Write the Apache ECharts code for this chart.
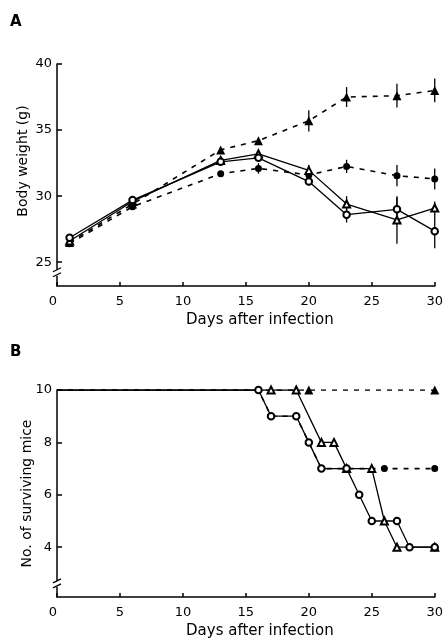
<!DOCTYPE html>
<html>
<head>
<meta charset="utf-8">
<script src="https://cdn.jsdelivr.net/npm/echarts@6/dist/echarts.min.js"></script>
<style>
  html, body { margin: 0; padding: 0; background: #fff; }
  #chart { width: 446px; height: 640px; }
</style>
</head>
<body>
<div id="chart"></div>
<script>
  // Panel A: body weight (g), mean with error bars
  const daysA = [1, 6, 13, 16, 20, 23, 27, 30];
  const filledTriA = [26.5, 29.4, 33.5, 34.2, 35.7, 37.5, 37.6, 38.0];
  const filledTriSd = [0, 0, 0, 0, 0.8, 0.75, 0.9, 0.9];
  const filledCircA = [26.4, 29.2, 31.7, 32.1, 31.6, 32.25, 31.55, 31.3];
  const filledCircSd = [0, 0, 0, 0.4, 0, 0.5, 0.8, 0.8];
  const openTriA = [26.6, 29.6, 32.7, 33.2, 31.95, 29.4, 28.2, 29.1];
  const openTriSd = [0, 0, 0, 0.3, 0.4, 0.6, 1.8, 0.5];
  const openCircA = [26.85, 29.7, 32.6, 32.9, 31.1, 28.6, 29.0, 27.35];
  const openCircSd = [0, 0, 0, 0.3, 0.3, 0.6, 0.9, 1.3];
  const yTicksA = [25, 30, 35, 40];

  // Panel B: number of surviving mice
  const filledTriDaysB = [0, 20, 30];
  const filledTriB = [10, 10, 10];
  const filledCircDaysB = [0, 16, 17, 19, 20, 21, 26, 30];
  const filledCircB = [10, 10, 9, 9, 8, 7, 7, 7];
  const openTriDaysB = [0, 17, 19, 21, 22, 23, 25, 26, 27, 30];
  const openTriB = [10, 10, 10, 8, 8, 7, 7, 5, 4, 4];
  const openCircDaysB = [0, 16, 17, 19, 20, 21, 23, 24, 25, 27, 28, 30];
  const openCircB = [10, 10, 9, 9, 8, 7, 7, 6, 5, 5, 4, 4];
  const yTicksB = [4, 6, 8, 10];

  const font = 'DejaVu Sans';
  const symbolSizes = { triangle: 9, circle: 7, emptyTriangle: 7, emptyCircle: 6.5 };

  const pairs = (xs, ys) => xs.map((x, i) => [x, ys[i]]);
  // survival curves start at the y-axis without a marker
  const survData = (xs, ys) => xs.map((x, i) => i === 0 ? { value: [x, ys[i]], symbol: 'none' } : [x, ys[i]]);
  const errData = (ys, sd) => daysA.map((x, i) => [x, ys[i] - sd[i], ys[i] + sd[i]]).filter((d, i) => sd[i] > 0);

  const xAxisCommon = {
    type: 'value', min: 0, max: 30, interval: 5,
    axisLine: { lineStyle: { color: '#000', width: 1.5 } },
    axisTick: { inside: true, length: 4, lineStyle: { color: '#000', width: 1.5 } },
    axisLabel: { color: '#000', fontSize: 13, fontFamily: font, margin: 9, alignMinLabel: 'right' },
    splitLine: { show: false },
    name: 'Days after infection', nameLocation: 'middle', nameGap: 27, nameMoveOverlap: false,
    nameTextStyle: { color: '#000', fontSize: 15, fontFamily: font, padding: [0, 0, 0, 28] }
  };

  const yAxisCommon = (min, max, ticks) => ({
    type: 'value', min: min, max: max,
    axisLine: { show: true, lineStyle: { color: '#000', width: 1.5 } },
    axisTick: { show: true, inside: true, length: 5, customValues: ticks, lineStyle: { color: '#000', width: 1.5 } },
    axisLabel: { color: '#000', fontSize: 13, fontFamily: font, margin: 5, customValues: ticks },
    splitLine: { show: false }
  });

  const lineSeries = (gi, data, symbol, dashed) => ({
    type: 'line', xAxisIndex: gi, yAxisIndex: gi, data: data,
    symbol: symbol, symbolSize: symbolSizes[symbol],
    showAllSymbol: true, animation: false,
    itemStyle: { color: '#000', borderWidth: 1.2 },
    lineStyle: { color: '#000', width: dashed ? 1.6 : 1.3, type: dashed ? [5, 6] : 'solid' },
    z: dashed ? 2 : 3
  });

  const errSeries = (data) => ({
    type: 'custom', xAxisIndex: 0, yAxisIndex: 0, data: data, animation: false, z: 1,
    renderItem: (params, api) => {
      const lo = api.coord([api.value(0), api.value(1)]);
      const hi = api.coord([api.value(0), api.value(2)]);
      return { type: 'line', shape: { x1: lo[0], y1: lo[1], x2: hi[0], y2: hi[1] },
        style: { stroke: '#000', lineWidth: 1.3 } };
    }
  });

  const option = {
    backgroundColor: '#fff',
    animation: false,
    title: [
      { text: 'A', left: 10, top: 15, padding: 0, textStyle: { fontSize: 15, fontWeight: 'bold', fontFamily: font, color: '#000' } },
      { text: 'B', left: 10, top: 345, padding: 0, textStyle: { fontSize: 15, fontWeight: 'bold', fontFamily: font, color: '#000' } }
    ],
    grid: [
      { left: 57, right: 9, top: 64, height: 222 },
      { left: 57, right: 9, top: 390, height: 207 }
    ],
    xAxis: [
      Object.assign({ gridIndex: 0 }, xAxisCommon),
      Object.assign({ gridIndex: 1 }, xAxisCommon)
    ],
    yAxis: [
      Object.assign({ gridIndex: 0, name: 'Body weight (g)', nameLocation: 'middle', nameGap: 27, nameMoveOverlap: false,
        nameTextStyle: { color: '#000', fontSize: 14, fontFamily: font, padding: [0, 0, 0, 28] } },
        yAxisCommon(23.2, 40, yTicksA)),
      Object.assign({ gridIndex: 1, name: 'No. of surviving mice', nameLocation: 'middle', nameGap: 23, nameMoveOverlap: false,
        nameTextStyle: { color: '#000', fontSize: 14, fontFamily: font } },
        yAxisCommon(2.1, 10, yTicksB))
    ],
    series: [
      errSeries(errData(filledTriA, filledTriSd)),
      errSeries(errData(filledCircA, filledCircSd)),
      errSeries(errData(openTriA, openTriSd)),
      errSeries(errData(openCircA, openCircSd)),
      lineSeries(0, pairs(daysA, filledTriA), 'triangle', true),
      lineSeries(0, pairs(daysA, filledCircA), 'circle', true),
      lineSeries(0, pairs(daysA, openTriA), 'emptyTriangle', false),
      lineSeries(0, pairs(daysA, openCircA), 'emptyCircle', false),
      lineSeries(1, survData(filledTriDaysB, filledTriB), 'triangle', true),
      lineSeries(1, survData(filledCircDaysB, filledCircB), 'circle', true),
      lineSeries(1, survData(openTriDaysB, openTriB), 'emptyTriangle', false),
      lineSeries(1, survData(openCircDaysB, openCircB), 'emptyCircle', false)
    ]
  };

  const chart = echarts.init(document.getElementById('chart'));
  chart.setOption(option);

  // axis break marks on both y axes
  const breakMark = (p) => [
    { type: 'rect', shape: { x: p[0] - 3, y: p[1] - 3, width: 6, height: 6 }, style: { fill: '#fff' }, z: 100 },
    { type: 'line', shape: { x1: p[0] - 4, y1: p[1] - 1, x2: p[0] + 4, y2: p[1] - 5 }, style: { stroke: '#000', lineWidth: 1.3 }, z: 101 },
    { type: 'line', shape: { x1: p[0] - 4, y1: p[1] + 4, x2: p[0] + 4, y2: p[1] }, style: { stroke: '#000', lineWidth: 1.3 }, z: 101 }
  ];
  const pA = chart.convertToPixel({ xAxisIndex: 0, yAxisIndex: 0 }, [0, 24.2]);
  const pB = chart.convertToPixel({ xAxisIndex: 1, yAxisIndex: 1 }, [0, 2.6]);
  chart.setOption({ graphic: breakMark(pA).concat(breakMark(pB)) });
</script>
</body>
</html>
